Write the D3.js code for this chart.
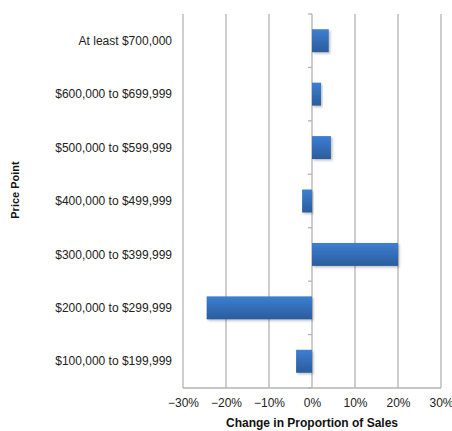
<!DOCTYPE html>
<html>
<head>
<meta charset="utf-8">
<script src="https://cdn.jsdelivr.net/npm/d3@7"></script>
<style>
  body { margin: 0; background: #fff; }
  text { font-family: "Liberation Sans", Arial, sans-serif; }
</style>
</head>
<body>
<svg width="452" height="431"></svg>
<script>
// price bands, top to bottom
var categories = ["At least $700,000", "$600,000 to $699,999", "$500,000 to $599,999",
                  "$400,000 to $499,999", "$300,000 to $399,999", "$200,000 to $299,999",
                  "$100,000 to $199,999"];
var changes = [0.039, 0.021, 0.044, -0.023, 0.200, -0.245, -0.037];
var xTicks = [-0.3, -0.2, -0.1, 0, 0.1, 0.2, 0.3];

const svg    = d3.select("svg"),
      margin = {top: 14, right: 11, bottom: 43, left: 183},
      width  = +svg.attr("width")  - margin.left - margin.right,
      height = +svg.attr("height") - margin.top  - margin.bottom,
      x      = d3.scaleLinear().domain([-0.3, 0.3]).range([0, width]),
      y      = d3.scaleBand().domain(categories).range([0, height]).paddingInner(0.57).paddingOuter(0.285),
      g      = svg.append("g").attr("transform", `translate(${margin.left},${margin.top})`);

// bar fill gradient + soft shadow
var defs = svg.append("defs");
var grad = defs.append("linearGradient").attr("id", "barGrad")
    .attr("x1", 0).attr("y1", 0).attr("x2", 0).attr("y2", 1);
grad.append("stop").attr("offset", "0%").attr("stop-color", "#3d7fd2");
grad.append("stop").attr("offset", "100%").attr("stop-color", "#2b5c9c");
var shadow = defs.append("filter").attr("id", "shadow")
    .attr("x", "-10%").attr("y", "-20%").attr("width", "130%").attr("height", "160%");
shadow.append("feDropShadow").attr("dx", 1.5).attr("dy", 1.5).attr("stdDeviation", 1)
    .attr("flood-color", "#000").attr("flood-opacity", 0.25);

// vertical grid lines
g.selectAll(".grid")
  .data(xTicks)
  .enter().append("line")
    .attr("class", "grid")
    .attr("x1", d => x(d)).attr("x2", d => x(d))
    .attr("y1", 0).attr("y2", height)
    .attr("stroke", "#b3b3b3")
    .attr("stroke-width", 1.3);

// bottom axis line
g.append("line")
    .attr("x1", 0).attr("x2", width)
    .attr("y1", height).attr("y2", height)
    .attr("stroke", "#b3b3b3").attr("stroke-width", 1.3);

// x tick labels
g.append("g")
    .attr("transform", `translate(0,${height})`)
    .call(d3.axisBottom(x).tickValues(xTicks).tickFormat(d3.format(".0%")).tickSize(0).tickPadding(10))
    .call(a => a.select(".domain").remove())
    .call(a => a.selectAll("text")
        .attr("font-family", "Liberation Sans, Arial, sans-serif")
        .attr("font-size", 12).attr("fill", "#222"));

// category axis sits on the zero line
var catTicks = d3.range(categories.length + 1).map(i => i * height / categories.length);
g.selectAll(".cattick")
  .data(catTicks)
  .enter().append("line")
    .attr("x1", x(0) - 4).attr("x2", x(0))
    .attr("y1", d => d).attr("y2", d => d)
    .attr("stroke", "#b3b3b3").attr("stroke-width", 1.3);

// category labels on the left
g.selectAll(".catlabel")
  .data(categories)
  .enter().append("text")
    .attr("x", -11)
    .attr("y", d => y(d) + y.bandwidth() / 2)
    .attr("dy", "0.35em")
    .attr("text-anchor", "end")
    .attr("font-size", 12)
    .attr("fill", "#222")
    .text(d => d);

// bars
g.selectAll(".bar")
  .data(changes)
  .enter().append("rect")
    .attr("class", "bar")
    .attr("x", d => x(Math.min(0, d)))
    .attr("y", (d, i) => y(categories[i]))
    .attr("width", d => Math.abs(x(d) - x(0)))
    .attr("height", y.bandwidth())
    .attr("fill", "url(#barGrad)")
    .attr("filter", "url(#shadow)");

// axis titles
svg.append("text")
    .attr("x", margin.left + width / 2)
    .attr("y", 427)
    .attr("text-anchor", "middle")
    .attr("font-size", 12)
    .attr("font-weight", "bold")
    .attr("fill", "#111")
    .text("Change in Proportion of Sales");

svg.append("text")
    .attr("transform", "translate(19,190) rotate(-90)")
    .attr("text-anchor", "middle")
    .attr("font-size", 11)
    .attr("font-weight", "bold")
    .attr("fill", "#111")
    .text("Price Point");
</script>
</body>
</html>
